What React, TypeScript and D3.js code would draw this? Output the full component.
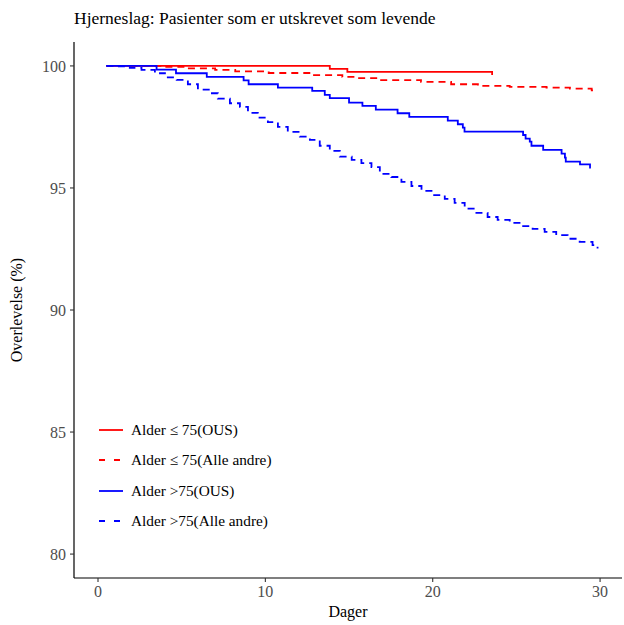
import React from "react";
import * as d3 from "d3";

const title = "Hjerneslag: Pasienter som er utskrevet som levende";
const xLabel = "Dager";
const yLabel = "Overlevelse (%)";
const xTicks = [0, 10, 20, 30];
const yTicks = [80, 85, 90, 95, 100];

const seriesNames = ["Alder \u2264 75(OUS)", "Alder \u2264 75(Alle andre)", "Alder >75(OUS)", "Alder >75(Alle andre)"];
const seriesColors = ["#FF0000", "#FF0000", "#0000FF", "#0000FF"];
const seriesDashed = [false, true, false, true];

const redOusDays = [0.5, 13.85, 14.9, 23.55, 23.6];
const redOusVals = [100, 99.88, 99.76, 99.66, 99.66];

const redOtherDays = [0.5, 3.8, 5.2, 7.0, 8.2, 10.2, 12.8, 14.6, 15.5, 16.7, 19.3, 21.1, 22.7, 24.6, 26.8, 28.2, 29.5, 29.85];
const redOtherVals = [100, 99.96, 99.9, 99.84, 99.78, 99.71, 99.62, 99.55, 99.5, 99.42, 99.35, 99.25, 99.18, 99.14, 99.11, 99.07, 99.0, 99.0];

const blueOusDays = [0.5, 3.5, 4.66, 6.5, 8.7, 9.0, 10.75, 12.8, 13.55, 13.85, 15.0, 15.8, 16.6, 17.9, 18.6, 20.9, 21.5, 21.8, 21.9, 25.4, 25.55, 25.8, 25.9, 26.6, 27.7, 27.9, 27.95, 28.8, 29.4, 29.45];
const blueOusVals = [100, 99.85, 99.7, 99.55, 99.41, 99.25, 99.11, 98.98, 98.81, 98.68, 98.5, 98.36, 98.21, 98.06, 97.91, 97.76, 97.61, 97.47, 97.31, 97.17, 97.02, 96.9, 96.73, 96.56, 96.41, 96.24, 96.08, 95.97, 95.83, 95.83];

const blueOtherDays = [0.5, 1.0, 1.9, 2.6, 3.4, 4.0, 4.7, 5.37, 5.97, 6.69, 7.16, 7.88, 8.48, 8.96, 9.55, 10.15, 10.75, 11.34, 12.06, 12.66, 13.25, 13.85, 14.45, 15.16, 15.74, 16.34, 16.84, 17.53, 18.13, 18.73, 19.33, 20.0, 20.72, 21.31, 21.91, 22.61, 23.28, 23.88, 24.6, 25.3, 25.97, 26.69, 27.38, 28.06, 28.78, 29.55, 29.85];
const blueOtherVals = [100, 99.98, 99.92, 99.84, 99.7, 99.53, 99.43, 99.25, 99.03, 98.88, 98.66, 98.47, 98.32, 98.08, 97.88, 97.7, 97.5, 97.3, 97.1, 96.97, 96.73, 96.52, 96.28, 96.15, 96.02, 95.85, 95.58, 95.45, 95.25, 95.08, 94.88, 94.71, 94.55, 94.39, 94.15, 93.98, 93.81, 93.69, 93.57, 93.44, 93.32, 93.2, 93.07, 92.92, 92.79, 92.66, 92.52];

const allDays = [redOusDays, redOtherDays, blueOusDays, blueOtherDays];
const allVals = [redOusVals, redOtherVals, blueOusVals, blueOtherVals];

export default function App() {
  const W = 624, H = 625;
  const left = 74, right = 622, top = 42, bottom = 578;
  const x = d3.scaleLinear().domain([-1.434, 31.31]).range([left, right]);
  const y = d3.scaleLinear().domain([79.02, 100.98]).range([bottom, top]);
  const line = d3.line<[number, number]>().x(d => x(d[0])).y(d => y(d[1])).curve(d3.curveStepAfter);
  const font = "'Liberation Serif', 'Times New Roman', serif";
  const tickCol = "#4d4d4d";
  const legendY = [430, 460, 491, 521];

  return (
    <svg width={W} height={H} style={{ position: "absolute", left: 0, top: 0, background: "#fff" }} fontFamily={font}>
      <rect x={0} y={0} width={W} height={H} fill="#fff" />
      <text x={left} y={24} fontSize={17.5} fill="#000">{title}</text>
      {allDays.map((days, i) => (
        <path key={i}
          d={line(days.map((dd, j) => [dd, allVals[i][j]] as [number, number])) || ""}
          fill="none" stroke={seriesColors[i]} strokeWidth={1.8}
          strokeDasharray={seriesDashed[i] ? "7,5" : undefined} />
      ))}
      <line x1={left} x2={left} y1={top} y2={bottom} stroke="#000" strokeWidth={1.2} />
      <line x1={left} x2={right} y1={bottom} y2={bottom} stroke="#000" strokeWidth={1.2} />
      {yTicks.map(t => (
        <g key={t}>
          <line x1={left - 4} x2={left} y1={y(t)} y2={y(t)} stroke="#333" strokeWidth={1.1} />
          <text x={left - 8} y={y(t)} dy="0.35em" textAnchor="end" fontSize={16} fill={tickCol}>{t}</text>
        </g>
      ))}
      {xTicks.map(t => (
        <g key={t}>
          <line x1={x(t)} x2={x(t)} y1={bottom} y2={bottom + 4} stroke="#333" strokeWidth={1.1} />
          <text x={x(t)} y={bottom + 19} textAnchor="middle" fontSize={16} fill={tickCol}>{t}</text>
        </g>
      ))}
      <text x={(left + right) / 2} y={617} textAnchor="middle" fontSize={16} fill="#000">{xLabel}</text>
      <text transform={`translate(22,${(top + bottom) / 2}) rotate(-90)`} textAnchor="middle" fontSize={16} fill="#000">{yLabel}</text>
      {seriesNames.map((n, i) => (
        <g key={n}>
          <line x1={99} x2={123} y1={legendY[i]} y2={legendY[i]} stroke={seriesColors[i]} strokeWidth={1.8}
            strokeDasharray={seriesDashed[i] ? "6,9" : undefined} />
          <text x={131} y={legendY[i]} dy="0.35em" fontSize={15.3} fill="#000">{n}</text>
        </g>
      ))}
    </svg>
  );
}
